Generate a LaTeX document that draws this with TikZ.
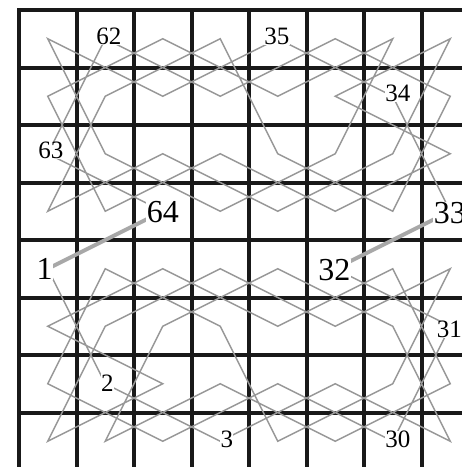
\documentclass[tikz,border=0pt]{standalone}
\usepackage{fontspec}
\setmainfont{Liberation Serif}
\definecolor{gridc}{RGB}{25,25,25}
\definecolor{tourc}{RGB}{152,152,152}
\definecolor{linkc}{RGB}{168,168,168}
\begin{document}
\begin{tikzpicture}[x=1pt,y=-1pt,
  gridline/.style={draw=gridc,line width=4pt},
  tour/.style={draw=tourc,line width=1.5pt},
  link/.style={draw=linkc,line width=4pt},
  lab/.style={fill=white,inner sep=0.3pt,font=\fontsize{25}{25}\selectfont},
  bigl/.style={fill=white,inner sep=0.3pt,font=\fontsize{32}{32}\selectfont}]
\useasboundingbox (0,0) rectangle (462,467);
\clip (0,0) rectangle (462,467);
\fill[white] (0,0) rectangle (462,467);
% board
\foreach \k in {0,...,8} {
  \draw[gridline] ({19+57.5*\k},8) -- ({19+57.5*\k},480);
  \draw[gridline] (17,{10+57.5*\k}) -- (480,{10+57.5*\k});
}
% square centres
\foreach \r in {0,...,7} {
  \foreach \c in {0,...,7} {
    \coordinate (s\r\c) at ({47.75+57.5*\c},{38.75+57.5*\r});
  }
}
% lower half: 1 ... 32
\draw[tour] (s40) -- (s61) -- (s73) -- (s65) -- (s77) -- (s56) -- (s44) -- (s52)
  -- (s71) -- (s63) -- (s75) -- (s67) -- (s46) -- (s54) -- (s42) -- (s50)
  -- (s62) -- (s70) -- (s51) -- (s43) -- (s55) -- (s47) -- (s66) -- (s74)
  -- (s53) -- (s41) -- (s60) -- (s72) -- (s64) -- (s76) -- (s57) -- (s45);
% upper half: 33 ... 64
\draw[tour] (s37) -- (s16) -- (s04) -- (s12) -- (s00) -- (s21) -- (s33) -- (s25)
  -- (s06) -- (s14) -- (s02) -- (s10) -- (s31) -- (s23) -- (s35) -- (s27)
  -- (s15) -- (s07) -- (s26) -- (s34) -- (s22) -- (s30) -- (s11) -- (s03)
  -- (s24) -- (s36) -- (s17) -- (s05) -- (s13) -- (s01) -- (s20) -- (s32);
% joining moves
\draw[link] (s40) -- (s32);
\draw[link] (s45) -- (s37);
% labels
\node[bigl] (n1) at ([shift={(-3,0)}]s40) {1};
\node[lab] (n2) at ([shift={(2,-1)}]s61) {2};
\node[lab] (n3) at ([shift={(6.5,-2)}]s73) {3};
\node[lab] (n30) at ([shift={(5,-2)}]s76) {30};
\node[lab] (n31) at ([shift={(-1,3)}]s57) {31};
\node[bigl] (n32) at ([shift={(-1,1)}]s45) {32};
\node[bigl] (n33) at ([shift={(-0.5,1.5)}]s37) {33};
\node[lab] (n34) at ([shift={(5,-3)}]s16) {34};
\node[lab] (n35) at ([shift={(-1,-2.7)}]s04) {35};
\node[lab] (n62) at ([shift={(3.5,-2.7)}]s01) {62};
\node[lab] (n63) at ([shift={(3,-3)}]s20) {63};
\node[bigl] (n64) at ([shift={(0,0.5)}]s32) {64};
\end{tikzpicture}
\end{document}
